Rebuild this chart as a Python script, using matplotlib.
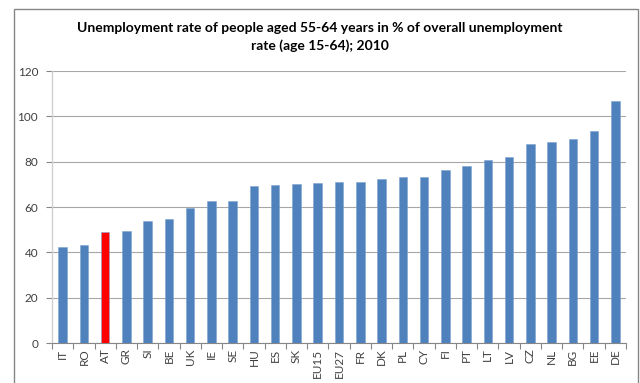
import matplotlib
matplotlib.use("Agg")
import matplotlib.pyplot as plt
from matplotlib.patches import Rectangle

countries = ["IT", "RO", "AT", "GR", "SI", "BE", "UK", "IE", "SE", "HU", "ES", "SK",
             "EU15", "EU27", "FR", "DK", "PL", "CY", "FI", "PT", "LT", "LV", "CZ",
             "NL", "BG", "EE", "DE"]
values = [42.4, 43.4, 48.8, 49.6, 54.0, 54.7, 59.4, 62.5, 62.8, 69.4, 69.7, 70.0,
          70.7, 71.0, 71.0, 72.2, 73.2, 73.2, 76.5, 77.9, 80.6, 82.1, 87.7,
          88.8, 90.1, 93.5, 106.8]
highlight = "AT"
yticks = [0, 20, 40, 60, 80, 100, 120]
title = ("Unemployment rate of people aged 55-64 years in % of overall unemployment\n"
         "rate (age 15-64); 2010")

plt.rcParams["font.family"] = ["Lato", "DejaVu Sans"]

fig = plt.figure(figsize=(6.4, 3.83), dpi=100)
fig.patch.set_facecolor("white")

# chart-area frame
fig.patches.append(Rectangle((14 / 640, -0.05), (638 - 14) / 640, 1.05 - 9 / 383,
                             transform=fig.transFigure, fill=False,
                             edgecolor="#868686", linewidth=1.0))

ax = fig.add_axes([52 / 640, (383 - 343) / 383, (626 - 52) / 640, (343 - 71) / 383])

n = len(countries)
colors = ["#FF0000" if c == highlight else "#4F81BD" for c in countries]
x = list(range(n))
ax.bar(x, values, width=0.4, color=colors, edgecolor="#7FA3D0", linewidth=0.4, zorder=3)

ax.set_xlim(-0.5, n - 0.5)
ax.set_ylim(0, 120)
ax.set_yticks(yticks)
ax.set_yticklabels([str(t) for t in yticks], fontsize=8.5, color="#404040")
ax.yaxis.grid(True, color="#A6A6A6", linewidth=0.8, zorder=0)

ax.set_xticks(x)
ax.set_xticklabels(countries, rotation=90, fontsize=8.5, color="#404040")
ax.tick_params(axis="x", length=0, pad=4)
# category boundary ticks
ax.set_xticks([i - 0.5 for i in range(n + 1)], minor=True)
ax.tick_params(axis="x", which="minor", length=4, color="#868686", width=0.8)
ax.tick_params(axis="y", length=4, color="#868686", width=0.8, pad=6)

for side in ["top", "right"]:
    ax.spines[side].set_visible(False)
ax.spines["left"].set_color("#D0D0D0")
ax.spines["bottom"].set_color("#868686")
ax.spines["left"].set_linewidth(1.0)
ax.spines["bottom"].set_linewidth(0.8)

fig.text(0.5 * (14 + 638) / 640 - 0.01, 1 - 37 / 383, title, ha="center", va="center",
         fontsize=10, fontweight="bold", color="#000000", linespacing=1.55)

fig.savefig("out.png", dpi=100, facecolor="white")
